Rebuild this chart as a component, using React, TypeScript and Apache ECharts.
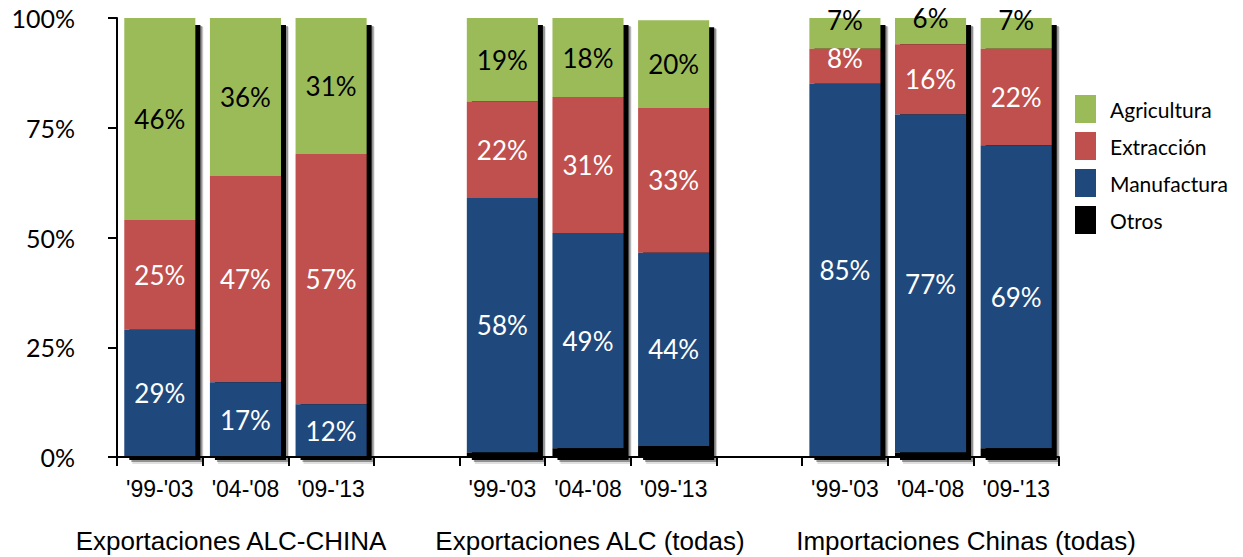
import React, { useEffect, useRef } from "react";
import * as echarts from "echarts";

const categories = ["'99-'03", "'04-'08", "'09-'13", "", "'99-'03", "'04-'08", "'09-'13", "", "'99-'03", "'04-'08", "'09-'13"];
const agricultura = [46, 36, 31, null, 19, 18, 20, null, 7, 6, 7];
const extraccion = [25, 47, 57, null, 22, 31, 33, null, 8, 16, 22];
const manufactura = [29, 17, 12, null, 58, 49, 44, null, 85, 77, 69];
const otros = [0, 0, 0, null, 1, 2, 2.5, null, 0, 1, 2];
const yTicks = [0, 25, 50, 75, 100];
const groupLabels = ["Exportaciones ALC-CHINA", "Exportaciones ALC (todas)", "Importaciones Chinas (todas)"];

const groupLabelX = [231, 590, 966];
const agriOffsets: Record<number, number[]> = { 8: [0, -13], 9: [0, -13], 10: [0, -13] };
const extrOffsets: Record<number, number[]> = { 8: [0, -8] };
const BAR_RATIO = 0.83;

export default function App() {
  const ref = useRef<HTMLDivElement>(null);
  useEffect(() => {
    document.body.style.margin = "0";
    const chart = echarts.init(ref.current!, null, { renderer: "svg" });
    const mk = (vals: (number | null)[], offsets: Record<number, number[]>) =>
      vals.map((v, i) => (v === null ? "-" : offsets[i] ? { value: v, label: { offset: offsets[i] } } : v));
    const labelBase = {
      show: true,
      position: "inside",
      fontFamily: "Lato",
      fontSize: 26,
      formatter: "{c}%",
    };
    const shadowData = categories
      .map((_, i) => [i, agricultura[i], extraccion[i], manufactura[i], otros[i]])
      .filter((d) => d[1] !== null);
    chart.setOption({
      animation: false,
      grid: { left: 117, right: 184, top: 18, bottom: 100, outerBoundsMode: "none", containLabel: false },
      legend: {
        orient: "vertical",
        left: 1075,
        top: 95,
        padding: 0,
        itemWidth: 21,
        itemHeight: 28,
        itemGap: 9,
        icon: "rect",
        data: ["Agricultura", "Extracción", "Manufactura", "Otros"],
        textStyle: { fontFamily: "Lato", fontSize: 21, color: "#000", padding: [0, 0, 0, 9] },
      },
      xAxis: {
        type: "category",
        data: categories,
        boundaryGap: true,
        z: 10,
        axisLine: { lineStyle: { color: "#000", width: 2 } },
        axisTick: { show: true, interval: 0, length: 9, lineStyle: { color: "#000", width: 2 } },
        axisLabel: { interval: 0, margin: 20, fontFamily: "Liberation Sans", fontSize: 23, color: "#000" },
        splitLine: { show: false },
      },
      yAxis: {
        type: "value",
        min: yTicks[0],
        max: yTicks[yTicks.length - 1],
        interval: 25,
        z: 10,
        axisLine: { show: true, lineStyle: { color: "#000", width: 2 } },
        axisTick: { show: true, length: 9, lineStyle: { color: "#000", width: 2 } },
        axisLabel: { formatter: "{value}%", margin: 42, fontFamily: "Lato", fontSize: 25, color: "#000" },
        splitLine: { show: false },
      },
      graphic: groupLabels.map((t, i) => ({
        type: "text",
        x: groupLabelX[i],
        y: 541,
        style: {
          text: t,
          fontFamily: "Liberation Sans",
          fontSize: 26,
          fill: "#000",
          textAlign: "center",
          textVerticalAlign: "middle",
        },
      })),
      series: [
        {
          name: "sombra",
          type: "custom",
          z: 1,
          silent: true,
          clip: false,
          encode: { x: 0, y: 1 },
          data: shadowData,
          renderItem: (params: any, api: any) => {
            const i = api.value(0);
            const total = api.value(1) + api.value(2) + api.value(3) + api.value(4);
            const top = api.coord([i, total]);
            const bottom = api.coord([i, 0]);
            const bw = api.size([1, 0])[0] * BAR_RATIO;
            const x0 = top[0] - bw / 2;
            const h = bottom[1] - top[1];
            return {
              type: "group",
              children: [
                { type: "rect", shape: { x: x0 + 8, y: top[1] + 9, width: bw, height: h - 2 }, style: { fill: "rgba(0,0,0,0.12)" } },
                { type: "rect", shape: { x: x0 + 7, y: top[1] + 8, width: bw, height: h - 3 }, style: { fill: "rgba(0,0,0,0.35)" } },
                { type: "rect", shape: { x: x0 + 5, y: top[1] + 7, width: bw, height: h - 4 }, style: { fill: "#000" } },
              ],
            };
          },
        },
        {
          name: "Otros",
          type: "bar",
          stack: "total",
          barWidth: "83%",
          z: 6,
          data: mk(otros, {}),
          itemStyle: { color: "#000000" },
          label: { show: false },
        },
        {
          name: "Manufactura",
          type: "bar",
          stack: "total",
          barWidth: "83%",
          z: 5,
          data: mk(manufactura, {}),
          itemStyle: { color: "#1F497D" },
          label: { ...labelBase, color: "#fff" },
        },
        {
          name: "Extracción",
          type: "bar",
          stack: "total",
          barWidth: "83%",
          z: 4,
          data: mk(extraccion, extrOffsets),
          itemStyle: { color: "#C0504D" },
          label: { ...labelBase, color: "#fff" },
        },
        {
          name: "Agricultura",
          type: "bar",
          stack: "total",
          barWidth: "83%",
          z: 3,
          data: mk(agricultura, agriOffsets),
          itemStyle: { color: "#9BBB59" },
          label: { ...labelBase, color: "#000" },
        },
      ],
    });
    return () => chart.dispose();
  }, []);
  return <div ref={ref} style={{ width: 1243, height: 557 }} />;
}
